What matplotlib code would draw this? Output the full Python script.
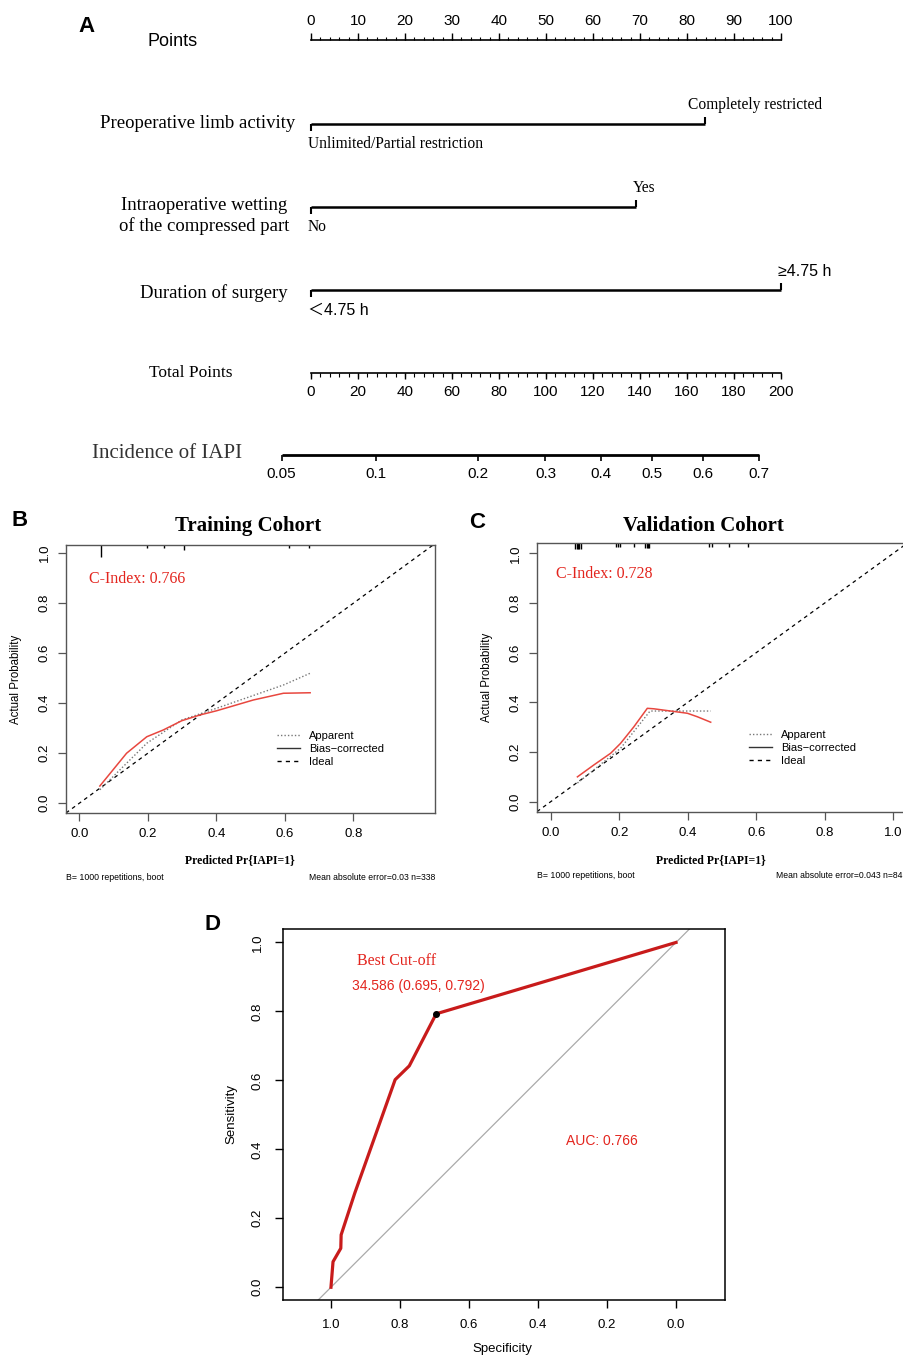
import numpy as np
import matplotlib
matplotlib.use('Agg')
import matplotlib.pyplot as plt
from matplotlib.lines import Line2D

SERIF = 'Liberation Serif'
SANS = 'Liberation Sans'

# ---------------- A: nomogram ----------------
points_ticks = [0, 10, 20, 30, 40, 50, 60, 70, 80, 90, 100]
total_ticks = [0, 20, 40, 60, 80, 100, 120, 140, 160, 180, 200]
risk_ticks = [0.05, 0.1, 0.2, 0.3, 0.4, 0.5, 0.6, 0.7]
var_names = ['Preoperative limb activity',
             'Intraoperative wetting\nof the compressed part',
             'Duration of surgery']
var_points = [83.8, 69.1, 100]
low_levels = ['Unlimited/Partial restriction', 'No', '＜4.75 h']
high_levels = ['Completely restricted', 'Yes', '≥4.75 h']
lp_intercept = -2.711   # linear predictor at 0 total points
lp_slope = 0.01868      # per total point

# ---------------- B: training calibration ----------------
train_x = [0.06, 0.138, 0.197, 0.245, 0.299, 0.352, 0.401, 0.508, 0.596, 0.674]
train_bias = [0.069, 0.20, 0.266, 0.293, 0.33, 0.353, 0.37, 0.413, 0.44, 0.442]
train_app_x = [0.06, 0.197, 0.299, 0.401, 0.596, 0.674]
train_app = [0.054, 0.24, 0.333, 0.38, 0.473, 0.52]
train_rug = [0.063, 0.197, 0.246, 0.307, 0.612, 0.672]
train_rug_n = [12, 3, 3, 5, 3, 3]

# ---------------- C: validation calibration ----------------
valid_x = [0.078, 0.126, 0.175, 0.204, 0.243, 0.282, 0.301, 0.399, 0.428, 0.467]
valid_bias = [0.10, 0.148, 0.195, 0.235, 0.302, 0.376, 0.374, 0.356, 0.342, 0.32]
valid_app_x = [0.078, 0.204, 0.29, 0.467]
valid_app = [0.075, 0.215, 0.365, 0.365]
valid_rug = [0.072, 0.076, 0.080, 0.084, 0.088, 0.190, 0.196, 0.202, 0.243,
             0.276, 0.280, 0.284, 0.288, 0.463, 0.472, 0.52, 0.577]
valid_rug_n = [6, 6, 6, 6, 6, 4, 4, 4, 4, 5, 5, 5, 5, 4, 4, 4, 4]

# ---------------- D: ROC ----------------
roc_spec = [1.0, 0.994, 0.9715, 0.9705, 0.931, 0.90, 0.814, 0.773, 0.695, 0.0]
roc_sens = [0.0, 0.074, 0.113, 0.152, 0.273, 0.36, 0.602, 0.642, 0.793, 1.0]
cut_value, cut_spec, cut_sens = 34.586, 0.695, 0.792
auc = 0.766

W, H = 904, 1358
fig = plt.figure(figsize=(W / 100, H / 100), dpi=100)


def frame(l, t, r, b):
    # pixel box -> figure fraction
    return [l / W, 1 - b / H, (r - l) / W, (b - t) / H]


def ftext(x, y, s, **kw):
    fig.text(x / W, 1 - y / H, s, **kw)


# ======== panel A ========
axA = fig.add_axes(frame(311, 0, 781, 495))
axA.set_xlim(0, 100)
axA.set_ylim(495, 0)
axA.axis('off')

# Points
y = 40
axA.plot([points_ticks[0], points_ticks[-1]], [y, y], color='k', lw=1.2)
axA.vlines(np.arange(0, 101, 2), y - 3.5, y, color='k', lw=0.8)
axA.vlines(points_ticks, y - 7, y, color='k', lw=1)
for t in points_ticks:
    axA.text(t, 21, str(t), ha='center', va='center', fontsize=11, family=SANS)
ftext(173, 41, 'Points', ha='center', va='center', fontsize=13, family=SANS)

# predictors
rows = [124, 207, 290]
name_right = [295, 289, 288]
name_y = [124, 216, 293]
high_off = [-3.6, -0.6, -0.6]
for i in range(3):
    y = rows[i]
    p = var_points[i]
    axA.plot([0, p], [y, y], color='k', lw=1.8, solid_capstyle='butt')
    axA.vlines(0, y, y + 7, color='k', lw=1.5)
    axA.vlines(p, y - 7, y, color='k', lw=1.5)
    ftext(name_right[i], name_y[i], var_names[i], ha='right', va='center',
          fontsize=13.5, family=SERIF, multialignment='center', linespacing=1.2)
    if i == 2:
        fam = [SANS, 'Noto Sans CJK SC']
        fs = 11.5
    else:
        fam = SERIF
        fs = 11.2
    axA.text(-0.7, y + 20, low_levels[i], ha='left', va='center', fontsize=fs, family=fam)
    axA.text(p + high_off[i], y - 19, high_levels[i], ha='left', va='center', fontsize=fs, family=fam)

# Total points
tot_scale = points_ticks[-1] / total_ticks[-1]
y = 373
axA.plot([0, total_ticks[-1] * tot_scale], [y, y], color='k', lw=1.2)
axA.vlines(np.arange(0, 201, 4) * tot_scale, y, y + 3.5, color='k', lw=0.8)
axA.vlines(np.array(total_ticks) * tot_scale, y, y + 6, color='k', lw=1)
for t in total_ticks:
    axA.text(t * tot_scale, 392, str(t), ha='center', va='center', fontsize=11, family=SANS)
ftext(191, 373, 'Total Points', ha='center', va='center', fontsize=12.5, family=SERIF)

# Incidence (logit scale of the linear predictor)
risk = np.array(risk_ticks)
risk_x = (np.log(risk / (1 - risk)) - lp_intercept) / lp_slope * tot_scale
y = 455
axA.plot([risk_x[0], risk_x[-1]], [y, y], color='k', lw=2, solid_capstyle='butt')
axA.vlines(risk_x, y, y + 6, color='k', lw=1.2)
for x, t in zip(risk_x, risk_ticks):
    axA.text(x, 474, f'{t:g}', ha='center', va='center', fontsize=11, family=SANS)
ftext(167, 454, 'Incidence of IAPI', ha='center', va='center', fontsize=15,
      family=SERIF, color='#333333')

for art in axA.lines + axA.collections:
    art.set_clip_on(False)

ftext(87, 26, 'A', ha='center', va='center', fontsize=16, weight='bold', family=SANS)


# ======== panels B and C ========
def calib_panel(box, xlim, ylim, xticks, px, bias, apx, app, rug, rug_n,
                cidx, cpos, title, title_x, mae, mae_right, letter, letter_pos):
    l, t, r, b = box
    ax = fig.add_axes(frame(l, t, r, b))
    ax.set_xlim(*xlim)
    ax.set_ylim(*ylim)
    for s in ax.spines.values():
        s.set_color('#555555')
        s.set_linewidth(1)
    ax.axline((0, 0), slope=1, color='k', lw=0.9, ls=(0, (3, 3)))
    ax.plot(apx, app, color='#777777', lw=1, ls=(0, (1, 1.5)))
    ax.plot(px, bias, color='#E8473F', lw=1.1)
    # rug of predicted values along the top
    h = b - t
    ax.vlines(rug, 1 - np.array(rug_n) / h, 1, color='k', lw=1,
              transform=ax.get_xaxis_transform())

    ax.set_xticks(xticks)
    ax.set_xticklabels([f'{v:.1f}' for v in xticks])
    ax.set_yticks([0, 0.2, 0.4, 0.6, 0.8, 1.0])
    ax.set_yticklabels(['0.0', '0.2', '0.4', '0.6', '0.8', '1.0'], rotation=90, va='center')
    ax.tick_params(length=6, width=0.9, color='#555555', labelsize=9.5, pad=5)
    for lab in ax.get_xticklabels() + ax.get_yticklabels():
        lab.set_family(SANS)

    ax.set_ylabel('Actual Probability', fontsize=8.3, family=SANS)
    ax.yaxis.set_label_coords(-0.118, 0.5)
    ax.set_xlabel('Predicted Pr{IAPI=1}', fontsize=8.5, family=SERIF, weight='bold')
    ax.xaxis.set_label_coords(0.47, -0.155)

    ax.text(cpos[0], cpos[1], cidx, color='#E3251E', fontsize=11.5, family=SERIF,
            ha='left', va='center')
    ax.text(title_x, 1 + (t - 526) / h, title, transform=ax.transAxes, ha='center',
            va='center', fontsize=15, weight='bold', family=SERIF)

    handles = [Line2D([], [], color='#777777', lw=1, ls=(0, (1, 1.5))),
               Line2D([], [], color='#333333', lw=1),
               Line2D([], [], color='k', lw=1, ls=(0, (3, 3)))]
    ax.legend(handles, ['Apparent', 'Bias\u2212corrected', 'Ideal'], loc='upper left',
              bbox_to_anchor=(0.572, 0.305), frameon=False,
              prop={'family': SANS, 'size': 8}, handlelength=2.1, handletextpad=0.8,
              labelspacing=0.25, borderpad=0, borderaxespad=0)

    ftext(l, b + 64, 'B= 1000 repetitions, boot', ha='left', va='center', fontsize=6.3, family=SANS)
    ftext(mae_right, b + 64, mae, ha='right', va='center', fontsize=6.2, family=SANS)
    ftext(letter_pos[0], letter_pos[1], letter, ha='center', va='center', fontsize=16,
          weight='bold', family=SANS)
    return ax


calib_panel((66, 545, 435, 813), (-0.0388, 1.0385), (-0.039, 1.033),
            [0, 0.2, 0.4, 0.6, 0.8], train_x, train_bias, train_app_x, train_app,
            train_rug, train_rug_n, 'C-Index: 0.766', (0.028, 0.897),
            'Training Cohort', 0.493, 'Mean absolute error=0.03 n=338', 435, 'B', (20, 521))

calib_panel((537, 543, 907, 812), (-0.04, 1.04), (-0.0415, 1.0415),
            [0, 0.2, 0.4, 0.6, 0.8, 1.0], valid_x, valid_bias, valid_app_x, valid_app,
            valid_rug, valid_rug_n, 'C-Index: 0.728', (0.015, 0.917),
            'Validation Cohort', 0.451, 'Mean absolute error=0.043 n=84', 903, 'C', (477, 522))

# ======== panel D ========
axD = fig.add_axes(frame(283, 929, 725, 1300))
axD.set_xlim(1.139, -0.142)
axD.set_ylim(-0.037, 1.039)
axD.axline((1, 0), (0, 1), color='#AAAAAA', lw=0.9)
axD.plot(roc_spec, roc_sens, color='#C81B1B', lw=2.3)
axD.plot([cut_spec], [cut_sens], 'o', color='k', ms=4)
axD.text(0.809, 0.945, 'Best Cut-off', color='#E3251E', fontsize=11.5, family=SERIF,
         ha='center', va='center')
axD.text(0.748, 0.874, f'{cut_value:.3f} ({cut_spec:.3f}, {cut_sens:.3f})', color='#E3251E',
         fontsize=10, family=SANS, ha='center', va='center')
axD.text(0.214, 0.423, f'AUC: {auc:.3f}', color='#E3251E', fontsize=10, family=SANS,
         ha='center', va='center')
xt = [1.0, 0.8, 0.6, 0.4, 0.2, 0.0]
axD.set_xticks(xt)
axD.set_xticklabels([f'{v:.1f}' for v in xt])
axD.set_yticks([0, 0.2, 0.4, 0.6, 0.8, 1.0])
axD.set_yticklabels(['0.0', '0.2', '0.4', '0.6', '0.8', '1.0'], rotation=90, va='center')
axD.tick_params(length=6, width=1, labelsize=9.5, pad=8)
for lab in axD.get_xticklabels() + axD.get_yticklabels():
    lab.set_family(SANS)
for s in axD.spines.values():
    s.set_linewidth(1.1)
axD.set_xlabel('Specificity', fontsize=9.5, family=SANS)
axD.xaxis.set_label_coords(0.497, -0.115)
axD.set_ylabel('Sensitivity', fontsize=9.5, family=SANS)
axD.yaxis.set_label_coords(-0.102, 0.5)
ftext(213, 924, 'D', ha='center', va='center', fontsize=16, weight='bold', family=SANS)

fig.savefig('out.png', dpi=100)
